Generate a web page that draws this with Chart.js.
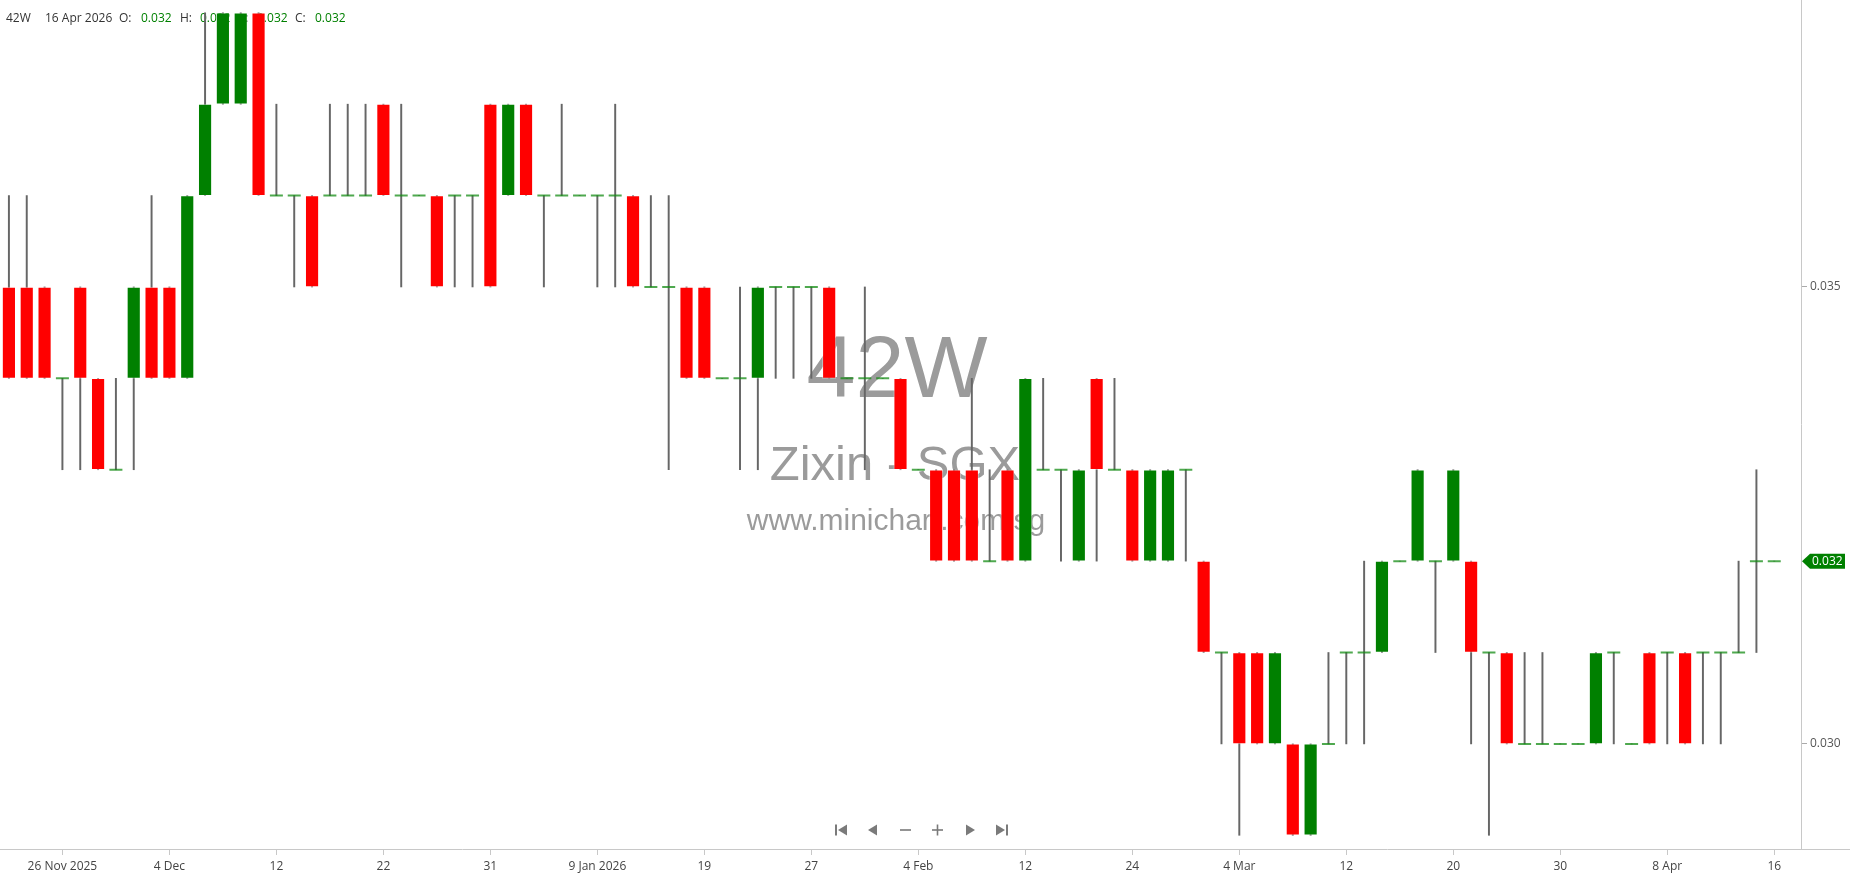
<!DOCTYPE html>
<html lang="en">
<head>
    <meta charset="UTF-8">
    <title>42W - Zixin - SGX</title>
    <script src="https://cdn.jsdelivr.net/npm/chart.js"></script>
    <style>
        html, body { margin: 0; padding: 0; background: #fff; overflow: hidden; }
        #wrap { width: 1850px; height: 874px; }
    </style>
</head>
<body>
<div id="wrap"><canvas id="priceChart" width="1850" height="874"></canvas></div>
<script>
    // trading days shown on the chart
    const dates = [
        '2025-11-21', '2025-11-24', '2025-11-25', '2025-11-26', '2025-11-27', '2025-11-28',
        '2025-12-01', '2025-12-02', '2025-12-03', '2025-12-04', '2025-12-05', '2025-12-08',
        '2025-12-09', '2025-12-10', '2025-12-11', '2025-12-12', '2025-12-15', '2025-12-16',
        '2025-12-17', '2025-12-18', '2025-12-19', '2025-12-22', '2025-12-23', '2025-12-24',
        '2025-12-26', '2025-12-29', '2025-12-30', '2025-12-31', '2026-01-02', '2026-01-05',
        '2026-01-06', '2026-01-07', '2026-01-08', '2026-01-09', '2026-01-12', '2026-01-13',
        '2026-01-14', '2026-01-15', '2026-01-16', '2026-01-19', '2026-01-20', '2026-01-21',
        '2026-01-22', '2026-01-23', '2026-01-26', '2026-01-27', '2026-01-28', '2026-01-29',
        '2026-01-30', '2026-02-02', '2026-02-03', '2026-02-04', '2026-02-05', '2026-02-06',
        '2026-02-09', '2026-02-10', '2026-02-11', '2026-02-12', '2026-02-13', '2026-02-16',
        '2026-02-19', '2026-02-20', '2026-02-23', '2026-02-24', '2026-02-25', '2026-02-26',
        '2026-02-27', '2026-03-02', '2026-03-03', '2026-03-04', '2026-03-05', '2026-03-06',
        '2026-03-09', '2026-03-10', '2026-03-11', '2026-03-12', '2026-03-13', '2026-03-16',
        '2026-03-17', '2026-03-18', '2026-03-19', '2026-03-20', '2026-03-23', '2026-03-24',
        '2026-03-25', '2026-03-26', '2026-03-27', '2026-03-30', '2026-03-31', '2026-04-01',
        '2026-04-02', '2026-04-06', '2026-04-07', '2026-04-08', '2026-04-09', '2026-04-10',
        '2026-04-13', '2026-04-14', '2026-04-15', '2026-04-16'
    ];

    const opens = [
        .035, .035, .035, .034, .035, .034, .033, .034, .035, .035,
        .034, .036, .037, .037, .038, .036, .036, .036, .036, .036,
        .036, .037, .036, .036, .036, .036, .036, .037, .036, .037,
        .036, .036, .036, .036, .036, .036, .035, .035, .035, .035,
        .034, .034, .034, .035, .035, .035, .035, .034, .034, .034,
        .034, .033, .033, .033, .033, .032, .033, .032, .033, .033,
        .032, .034, .033, .033, .032, .032, .033, .032, .031, .031,
        .031, .030, .030, .029, .030, .031, .031, .031, .032, .032,
        .032, .032, .032, .031, .031, .030, .030, .030, .030, .030,
        .031, .030, .031, .031, .031, .031, .031, .031, .032, .032
    ];
    const highs = [
        .036, .036, .035, .034, .035, .034, .034, .035, .036, .035,
        .036, .038, .038, .038, .038, .037, .036, .036, .037, .037,
        .037, .037, .037, .036, .036, .036, .036, .037, .037, .037,
        .036, .037, .036, .036, .037, .036, .036, .036, .035, .035,
        .034, .035, .035, .035, .035, .035, .035, .034, .035, .034,
        .034, .033, .033, .033, .034, .033, .033, .034, .034, .033,
        .033, .034, .034, .033, .033, .033, .033, .032, .031, .031,
        .031, .031, .030, .030, .031, .031, .032, .032, .032, .033,
        .032, .033, .032, .031, .031, .031, .031, .030, .030, .031,
        .031, .030, .031, .031, .031, .031, .031, .032, .033, .032
    ];
    const lows = [
        .034, .034, .034, .033, .033, .033, .033, .033, .034, .034,
        .034, .036, .037, .037, .036, .036, .035, .035, .036, .036,
        .036, .036, .035, .036, .035, .035, .035, .035, .036, .036,
        .035, .036, .036, .035, .035, .035, .035, .033, .034, .034,
        .034, .033, .033, .034, .034, .034, .034, .034, .033, .034,
        .033, .033, .032, .032, .032, .032, .032, .032, .033, .032,
        .032, .032, .033, .032, .032, .032, .032, .031, .030, .029,
        .030, .030, .029, .029, .030, .030, .030, .031, .032, .032,
        .031, .032, .030, .029, .030, .030, .030, .030, .030, .030,
        .030, .030, .030, .030, .030, .030, .030, .031, .031, .032
    ];
    const closes = [
        .034, .034, .034, .034, .034, .033, .033, .035, .034, .034,
        .036, .037, .038, .038, .036, .036, .036, .035, .036, .036,
        .036, .036, .036, .036, .035, .036, .036, .035, .037, .036,
        .036, .036, .036, .036, .036, .035, .035, .035, .034, .034,
        .034, .034, .035, .035, .035, .035, .034, .034, .034, .034,
        .033, .033, .032, .032, .032, .032, .032, .034, .033, .033,
        .033, .033, .033, .032, .033, .033, .033, .031, .031, .030,
        .030, .031, .029, .030, .030, .031, .031, .032, .032, .033,
        .032, .033, .031, .031, .030, .030, .030, .030, .030, .031,
        .031, .030, .030, .031, .030, .031, .031, .031, .032, .032
    ];

    // x labels every 6th trading day, starting at 26 Nov
    const tickLabels = ['26 Nov 2025', '4 Dec', '12', '22', '31', '9 Jan 2026', '19', '27', '4 Feb',
        '12', '24', '4 Mar', '12', '20', '30', '8 Apr', '16'];
    const yTicks = [0.030, 0.035];

    const upColor = '#008000';
    const downColor = '#ff0000';
    const last = closes.length - 1;

    // one empty slot at the right like the original chart
    const labels = dates.concat(['']);

    const wickData = lows.map((l, i) => [l, highs[i]]);
    const bodyData = opens.map((o, i) => o === closes[i] ? null : [o, closes[i]]);
    const bodyColors = opens.map((o, i) => closes[i] > o ? upColor : downColor);
    const flatData = opens.map((o, i) => o === closes[i] ? closes[i] : null);

    const textFont = '"Open Sans", "Noto Sans", sans-serif';

    // watermark + header text, drawn under the candles
    const background = {
        id: 'background',
        beforeDatasetsDraw(chart) {
            const ctx = chart.ctx;
            ctx.save();
            ctx.fillStyle = '#9b9b9b';
            ctx.textAlign = 'center';
            ctx.textBaseline = 'alphabetic';
            ctx.font = '88px "Liberation Sans", Arial, sans-serif';
            ctx.fillText('42W', 897, 397);
            ctx.font = '49px "Liberation Sans", Arial, sans-serif';
            ctx.fillText('Zixin - SGX', 895, 480);
            ctx.font = '30px "Liberation Sans", Arial, sans-serif';
            ctx.fillText('www.minichart.com.sg', 896, 530);

            // OHLC header of the last bar
            const d = new Date(dates[last] + 'T00:00:00');
            const months = ['Jan', 'Feb', 'Mar', 'Apr', 'May', 'Jun', 'Jul', 'Aug', 'Sep', 'Oct', 'Nov', 'Dec'];
            const dateText = d.getDate() + ' ' + months[d.getMonth()] + ' ' + d.getFullYear();
            const parts = [
                ['42W', '#333', 6], [dateText, '#333', 45],
                ['O:', '#333', 119], [opens[last].toFixed(3), upColor, 141],
                ['H:', '#333', 180], [highs[last].toFixed(3), upColor, 200],
                ['L:', '#333', 239], [lows[last].toFixed(3), upColor, 257],
                ['C:', '#333', 295], [closes[last].toFixed(3), upColor, 315]
            ];
            ctx.font = '12px ' + textFont;
            ctx.textAlign = 'left';
            ctx.textBaseline = 'middle';
            parts.forEach(p => {
                ctx.fillStyle = p[1];
                ctx.fillText(p[0], p[2], 19);
            });
            ctx.restore();
        }
    };

    // axis lines, last price tag and the navigation buttons
    const overlay = {
        id: 'overlay',
        afterDraw(chart) {
            const ctx = chart.ctx;
            const area = chart.chartArea;
            ctx.save();
            ctx.strokeStyle = '#c8c8c8';
            ctx.lineWidth = 1;
            ctx.beginPath();
            ctx.moveTo(0, Math.round(area.bottom) + 0.5);
            ctx.lineTo(chart.width, Math.round(area.bottom) + 0.5);
            ctx.moveTo(Math.round(area.right) + 0.5, 0);
            ctx.lineTo(Math.round(area.right) + 0.5, area.bottom);
            ctx.stroke();

            // green tag with the last close
            const y = chart.scales.y.getPixelForValue(closes[last]);
            const x0 = Math.round(area.right) + 1;
            ctx.fillStyle = upColor;
            ctx.beginPath();
            ctx.moveTo(x0, y);
            ctx.lineTo(x0 + 8, y - 7.5);
            ctx.lineTo(x0 + 43, y - 7.5);
            ctx.lineTo(x0 + 43, y + 7.5);
            ctx.lineTo(x0 + 8, y + 7.5);
            ctx.closePath();
            ctx.fill();
            ctx.fillStyle = '#fff';
            ctx.font = '12px ' + textFont;
            ctx.textAlign = 'left';
            ctx.textBaseline = 'middle';
            ctx.fillText(closes[last].toFixed(3), x0 + 10, y + 0.5);

            // nav buttons
            const cy = 830;
            ctx.fillStyle = '#7a7a7a';
            const tri = (tipX, baseX) => {
                ctx.beginPath();
                ctx.moveTo(tipX, cy);
                ctx.lineTo(baseX, cy - 5.5);
                ctx.lineTo(baseX, cy + 5.5);
                ctx.closePath();
                ctx.fill();
            };
            ctx.fillRect(835, cy - 5.5, 2, 11);
            tri(838, 847);
            tri(868, 877);
            ctx.fillRect(900, cy - 0.8, 11, 1.6);
            ctx.fillRect(932, cy - 0.8, 11, 1.6);
            ctx.fillRect(936.7, cy - 5.5, 1.6, 11);
            tri(975, 966);
            tri(1005, 996);
            ctx.fillRect(1006, cy - 5.5, 2, 11);
            ctx.restore();
        }
    };

    const ctx = document.getElementById('priceChart').getContext('2d');
    const priceChart = new Chart(ctx, {
        data: {
            labels: labels,
            datasets: [
                {
                    type: 'bar',
                    label: 'Range',
                    data: wickData,
                    backgroundColor: '#666',
                    barThickness: 1.3,
                    grouped: false,
                    order: 3
                },
                {
                    type: 'line',
                    label: 'Flat',
                    data: flatData,
                    showLine: false,
                    pointStyle: 'line',
                    pointRadius: 6.5,
                    pointBorderWidth: 2,
                    pointBorderColor: 'rgba(20,140,20,0.75)',
                    order: 2
                },
                {
                    type: 'bar',
                    label: 'Body',
                    data: bodyData,
                    backgroundColor: bodyColors,
                    borderColor: 'rgba(255,255,255,0.4)',
                    borderWidth: 1,
                    borderSkipped: false,
                    barThickness: 13.5,
                    grouped: false,
                    order: 1
                }
            ]
        },
        options: {
            responsive: false,
            animation: false,
            events: [],
            layout: { padding: 0, autoPadding: false },
            plugins: {
                legend: { display: false },
                tooltip: { enabled: false }
            },
            scales: {
                x: {
                    type: 'category',
                    offset: true,
                    afterFit: s => { s.height = 25; s.paddingLeft = 0; s.paddingRight = 0; },
                    afterBuildTicks: s => { s.ticks = s.ticks.filter(t => t.value % 6 === 3); },
                    grid: { display: true, drawOnChartArea: false, offset: false, tickLength: 6, color: '#c8c8c8' },
                    border: { display: false },
                    ticks: {
                        autoSkip: false,
                        maxRotation: 0,
                        padding: 4,
                        color: '#444',
                        font: { family: textFont, size: 12 },
                        callback: v => tickLabels[(v - 3) / 6] || ''
                    }
                },
                y: {
                    position: 'right',
                    min: 0.02885,
                    max: 0.03814,
                    afterFit: s => { s.width = 49; s.paddingTop = 0; s.paddingBottom = 0; },
                    afterBuildTicks: s => { s.ticks = yTicks.map(v => ({ value: v })); },
                    grid: { display: true, drawOnChartArea: false, tickLength: 6, color: '#aaa' },
                    border: { display: false },
                    ticks: {
                        padding: 3,
                        color: '#555',
                        font: { family: textFont, size: 12 },
                        callback: v => v.toFixed(3)
                    }
                }
            }
        },
        plugins: [background, overlay]
    });
</script>
</body>
</html>
